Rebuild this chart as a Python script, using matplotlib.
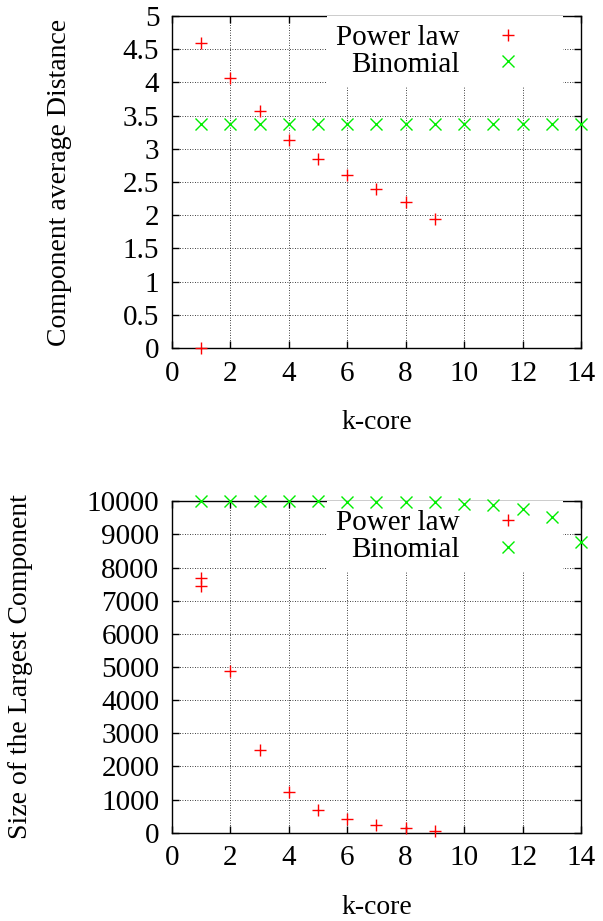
import matplotlib.pyplot as plt
from matplotlib.ticker import MultipleLocator, FormatStrFormatter

plt.rcParams['font.family'] = ['Liberation Serif', 'DejaVu Serif']
plt.rcParams['font.size'] = 20

# k-core values
kcore_pl = [1, 1, 2, 3, 4, 5, 6, 7, 8, 9]
kcore_bin = [1, 2, 3, 4, 5, 6, 7, 8, 9, 10, 11, 12, 13, 14]

# average distance inside the component
dist_pl = [4.60, 0.0, 4.06, 3.57, 3.13, 2.84, 2.61, 2.39, 2.20, 1.94]
dist_bin = [3.38] * 14

# size of the largest component
size_pl_k = [1, 1, 2, 3, 4, 5, 6, 7, 8, 9]
size_pl = [7676, 7444, 4879, 2495, 1227, 684, 412, 241, 133, 63]
size_bin = [9995, 9995, 9995, 9995, 9995, 9993, 9990, 9985, 9975, 9919,
            9890, 9777, 9535, 8772]

RED = '#ff0000'
GREEN = '#00ee00'

fig = plt.figure(figsize=(6.03, 9.21), dpi=100)
ax1 = fig.add_axes([0.285, 0.6221, 0.6785, 0.3605])
ax2 = fig.add_axes([0.285, 0.0959, 0.6785, 0.3598])


def style(ax):
    ax.set_xlim(0, 14)
    ax.xaxis.set_major_locator(MultipleLocator(2))
    ax.tick_params(direction='in', top=True, right=True, length=5, width=1,
                   pad=9, labelsize=21)
    ax.grid(True, color='black', linestyle=(0, (1, 2)), linewidth=0.6)
    for s in ax.spines.values():
        s.set_linewidth(1.0)
    ax.set_xlabel('k-core', fontsize=20)
    ax.xaxis.set_label_coords(0.5, -0.187)


def add_legend(ax):
    leg = ax.legend(loc='upper right', bbox_to_anchor=(0.956, 1.0),
                    markerfirst=False, frameon=True, fancybox=False,
                    framealpha=1, facecolor='white', edgecolor='none',
                    fontsize=21, handlelength=3.2, handletextpad=0.05,
                    labelspacing=0.0, borderpad=0.3, borderaxespad=0)
    leg.set_zorder(4)


# top panel
ax1.plot(kcore_pl, dist_pl, '+', color=RED, markersize=8,
         markeredgewidth=1, clip_on=False, zorder=6, label='Power law')
ax1.plot(kcore_bin, dist_bin, 'x', color=GREEN, markersize=8,
         markeredgewidth=1, clip_on=False, zorder=6, label='Binomial')
style(ax1)
ax1.set_ylim(0, 5)
ax1.yaxis.set_major_locator(MultipleLocator(0.5))
ax1.yaxis.set_major_formatter(FormatStrFormatter('%g'))
ax1.set_ylabel('Component average Distance', fontsize=20)
ax1.yaxis.set_label_coords(-0.244, 0.5)
add_legend(ax1)

# bottom panel
ax2.plot(size_pl_k, size_pl, '+', color=RED, markersize=8,
         markeredgewidth=1, clip_on=False, zorder=6, label='Power law')
ax2.plot(kcore_bin, size_bin, 'x', color=GREEN, markersize=8,
         markeredgewidth=1, clip_on=False, zorder=6, label='Binomial')
style(ax2)
ax2.set_ylim(0, 10000)
ax2.yaxis.set_major_locator(MultipleLocator(1000))
ax2.set_ylabel('Size of the Largest Component', fontsize=20)
ax2.yaxis.set_label_coords(-0.340, 0.5)
add_legend(ax2)

plt.savefig('out.png', dpi=100)
